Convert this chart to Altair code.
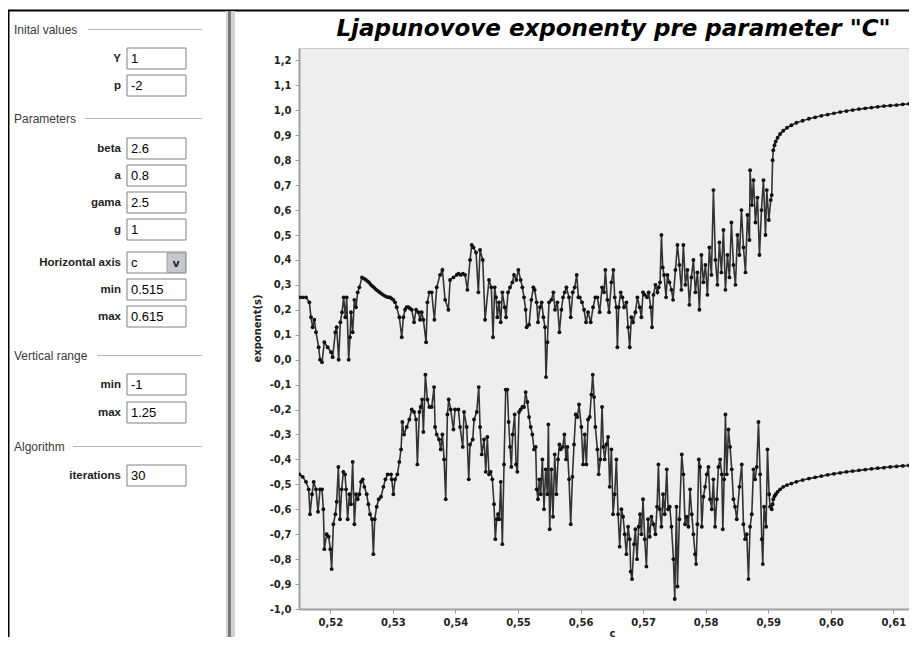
import altair as alt
import pandas as pd

# ---------------- chart data ----------------
TITLE = 'Ljapunovove exponenty pre parameter "C"'
X_TITLE = "c"
Y_TITLE = "exponent(s)"
X_TICKS = [0.52, 0.53, 0.54, 0.55, 0.56, 0.57, 0.58, 0.59, 0.60, 0.61]
Y_TICKS = [-1.0, -0.9, -0.8, -0.7, -0.6, -0.5, -0.4, -0.3, -0.2, -0.1, 0.0,
           0.1, 0.2, 0.3, 0.4, 0.5, 0.6, 0.7, 0.8, 0.9, 1.0, 1.1, 1.2]
X_DOMAIN = [0.515, 0.6125]
Y_DOMAIN = [-1.0, 1.25]

UPPER = [
    (0.51505, 0.25), (0.51559, 0.25), (0.51612, 0.25), (0.51665, 0.23), (0.51692, 0.17),
    (0.51718, 0.13), (0.51745, 0.16), (0.51772, 0.11), (0.51814, 0.05), (0.51836, 0.00),
    (0.51868, -0.01), (0.51905, 0.07), (0.51958, 0.05), (0.52012, 0.03), (0.52038, 0.01),
    (0.52081, 0.11), (0.52102, 0.13), (0.52134, 0.00), (0.52161, 0.15), (0.52188, 0.19),
    (0.52214, 0.25), (0.52241, 0.17), (0.52262, 0.25), (0.52294, 0.00), (0.52315, 0.09),
    (0.52331, 0.19), (0.52358, 0.11), (0.52385, 0.24), (0.52411, 0.21), (0.52438, 0.27),
    (0.52465, 0.29), (0.52507, 0.33), (0.52540, 0.325), (0.52571, 0.32), (0.52600, 0.314),
    (0.52625, 0.308), (0.52650, 0.30), (0.52678, 0.294), (0.52705, 0.288), (0.52731, 0.281),
    (0.52760, 0.276), (0.52785, 0.271), (0.52810, 0.266), (0.52838, 0.261), (0.52870, 0.256),
    (0.52902, 0.252), (0.52935, 0.25),
    (0.52955, 0.25), (0.52980, 0.245), (0.53008, 0.24), (0.53035, 0.23), (0.53062, 0.21),
    (0.53104, 0.17), (0.53142, 0.09), (0.53168, 0.17), (0.53195, 0.20), (0.53220, 0.21),
    (0.53248, 0.21), (0.53275, 0.205), (0.53302, 0.20), (0.53339, 0.15), (0.53371, 0.20),
    (0.53408, 0.19), (0.53435, 0.16), (0.53461, 0.19), (0.53488, 0.16), (0.53531, 0.07),
    (0.53552, 0.23), (0.53584, 0.27), (0.53621, 0.27), (0.53664, 0.16), (0.53701, 0.29),
    (0.53755, 0.34), (0.53792, 0.36), (0.53835, 0.24), (0.53888, 0.20), (0.53915, 0.32),
    (0.53968, 0.33), (0.54021, 0.34), (0.54050, 0.345), (0.54085, 0.34), (0.54120, 0.345),
    (0.54154, 0.34), (0.54192, 0.28), (0.54234, 0.40), (0.54261, 0.46), (0.54288, 0.45),
    (0.54330, 0.43), (0.54367, 0.27), (0.54394, 0.44), (0.54437, 0.40), (0.54474, 0.16),
    (0.54537, 0.32), (0.54574, 0.29), (0.54601, 0.09), (0.54628, 0.29), (0.54649, 0.25),
    (0.54670, 0.17), (0.54697, 0.23), (0.54724, 0.15), (0.54750, 0.27), (0.54788, 0.21),
    (0.54809, 0.17), (0.54841, 0.27), (0.54873, 0.29), (0.54910, 0.31), (0.54937, 0.34),
    (0.54974, 0.32), (0.55006, 0.36), (0.55043, 0.32), (0.55070, 0.29), (0.55097, 0.25),
    (0.55123, 0.20), (0.55139, 0.13), (0.55177, 0.14), (0.55214, 0.24), (0.55246, 0.29),
    (0.55267, 0.28), (0.55299, 0.23), (0.55320, 0.15), (0.55352, 0.21), (0.55379, 0.23),
    (0.55406, 0.17), (0.55432, 0.13), (0.55448, -0.07), (0.55470, 0.07), (0.55496, 0.23),
    (0.55534, 0.24), (0.55566, 0.27), (0.55592, 0.20), (0.55630, 0.23), (0.55662, 0.11),
    (0.55694, 0.20), (0.55720, 0.25), (0.55747, 0.27), (0.55774, 0.29), (0.55816, 0.25),
    (0.55843, 0.17), (0.55875, 0.27), (0.55907, 0.29), (0.55939, 0.34), (0.55966, 0.25),
    (0.55987, 0.25), (0.56024, 0.23), (0.56056, 0.20), (0.56088, 0.15), (0.56120, 0.19),
    (0.56163, 0.15), (0.56200, 0.21), (0.56237, 0.25), (0.56269, 0.25), (0.56306, 0.19),
    (0.56344, 0.29), (0.56376, 0.27), (0.56397, 0.36), (0.56429, 0.24), (0.56456, 0.19),
    (0.56493, 0.31), (0.56525, 0.36), (0.56546, 0.25), (0.56573, 0.21), (0.56589, 0.05),
    (0.56610, 0.21), (0.56642, 0.27), (0.56669, 0.25), (0.56696, 0.21), (0.56733, 0.23),
    (0.56760, 0.13), (0.56786, 0.05), (0.56813, 0.17), (0.56840, 0.15), (0.56877, 0.19),
    (0.56909, 0.25), (0.56946, 0.21), (0.56973, 0.17), (0.56999, 0.27), (0.57026, 0.26),
    (0.57063, 0.25), (0.57090, 0.27), (0.57122, 0.21), (0.57143, 0.13), (0.57165, 0.26),
    (0.57197, 0.30), (0.57229, 0.27), (0.57250, 0.29), (0.57271, 0.31), (0.57293, 0.50),
    (0.57314, 0.37), (0.57335, 0.34), (0.57367, 0.25), (0.57389, 0.34), (0.57421, 0.31),
    (0.57453, 0.28), (0.57479, 0.24), (0.57517, 0.36), (0.57549, 0.46),
    (0.57580, 0.38), (0.57612, 0.28), (0.57644, 0.46), (0.57676, 0.30), (0.57708, 0.36),
    (0.57740, 0.22), (0.57772, 0.33), (0.57804, 0.40), (0.57836, 0.27), (0.57868, 0.35),
    (0.57900, 0.20), (0.57932, 0.42), (0.57964, 0.31), (0.57996, 0.38), (0.58028, 0.26),
    (0.58060, 0.45), (0.58092, 0.34), (0.58124, 0.68), (0.58156, 0.40), (0.58188, 0.30),
    (0.58220, 0.47), (0.58252, 0.35), (0.58284, 0.52), (0.58316, 0.28), (0.58348, 0.42),
    (0.58380, 0.33), (0.58412, 0.55), (0.58444, 0.38), (0.58476, 0.30), (0.58508, 0.50),
    (0.58540, 0.42), (0.58572, 0.60), (0.58604, 0.45), (0.58636, 0.35), (0.58668, 0.58),
    (0.58700, 0.48), (0.58710, 0.76), (0.58740, 0.62), (0.58764, 0.72), (0.58796, 0.55),
    (0.58828, 0.65), (0.58860, 0.42), (0.58892, 0.60), (0.58924, 0.72), (0.58956, 0.50),
    (0.58977, 0.68), (0.59010, 0.56), (0.59040, 0.64), (0.59056, 0.66),
    (0.5907, 0.80), (0.5908, 0.84), (0.5910, 0.86), (0.5912, 0.875), (0.5915, 0.89),
    (0.5919, 0.905), (0.5924, 0.918), (0.5930, 0.93), (0.5937, 0.94), (0.5945, 0.95),
    (0.5955, 0.958), (0.5965, 0.966), (0.5975, 0.972), (0.5985, 0.978), (0.5995, 0.983),
    (0.6005, 0.988), (0.6015, 0.993), (0.6025, 0.997), (0.6035, 1.001), (0.6045, 1.005),
    (0.6055, 1.008), (0.6065, 1.011), (0.6075, 1.014), (0.6085, 1.017), (0.6095, 1.019),
    (0.6105, 1.021), (0.6115, 1.024), (0.6125, 1.026), (0.6135, 1.028),
]

LOWER = [
    (0.51505, -0.46), (0.51559, -0.47), (0.51612, -0.49), (0.51655, -0.52), (0.51676, -0.62),
    (0.51708, -0.54), (0.51735, -0.49), (0.51772, -0.52), (0.51804, -0.61), (0.51836, -0.52),
    (0.51868, -0.52), (0.51889, -0.60), (0.51905, -0.76), (0.51942, -0.70), (0.51974, -0.71),
    (0.52001, -0.76), (0.52022, -0.84), (0.52049, -0.66), (0.52081, -0.62), (0.52102, -0.57),
    (0.52129, -0.43), (0.52156, -0.64), (0.52182, -0.52), (0.52209, -0.45), (0.52236, -0.46),
    (0.52252, -0.52), (0.52278, -0.64), (0.52305, -0.54), (0.52331, -0.58), (0.52358, -0.41),
    (0.52385, -0.66), (0.52411, -0.54), (0.52438, -0.56), (0.52465, -0.54), (0.52491, -0.49),
    (0.52518, -0.48), (0.52545, -0.51), (0.52582, -0.54), (0.52609, -0.58), (0.52635, -0.62),
    (0.52667, -0.64), (0.52689, -0.78), (0.52710, -0.64), (0.52742, -0.59), (0.52774, -0.56),
    (0.52811, -0.55), (0.52849, -0.51), (0.52881, -0.48), (0.52918, -0.46), (0.52971, -0.46),
    (0.52982, -0.48), (0.53008, -0.54), (0.53035, -0.48), (0.53072, -0.46), (0.53104, -0.41),
    (0.53131, -0.36), (0.53152, -0.25), (0.53179, -0.30), (0.53222, -0.27), (0.53264, -0.24),
    (0.53302, -0.20), (0.53339, -0.21), (0.53371, -0.24), (0.53392, -0.42), (0.53424, -0.21),
    (0.53445, -0.19), (0.53467, -0.16), (0.53488, -0.29), (0.53520, -0.06), (0.53552, -0.16),
    (0.53584, -0.19), (0.53621, -0.19), (0.53659, -0.11), (0.53675, -0.27), (0.53701, -0.30),
    (0.53739, -0.32), (0.53765, -0.36), (0.53792, -0.30), (0.53819, -0.40), (0.53845, -0.56),
    (0.53872, -0.22), (0.53893, -0.16), (0.53925, -0.20), (0.53968, -0.28), (0.53994, -0.20),
    (0.54048, -0.20), (0.54074, -0.27), (0.54117, -0.35), (0.54138, -0.21), (0.54181, -0.27),
    (0.54213, -0.48), (0.54234, -0.34), (0.54277, -0.32), (0.54298, -0.24), (0.54341, -0.21),
    (0.54373, -0.11), (0.54394, -0.27), (0.54421, -0.38), (0.54458, -0.32), (0.54485, -0.45),
    (0.54510, -0.31), (0.54537, -0.46), (0.54564, -0.45), (0.54590, -0.48), (0.54617, -0.58),
    (0.54638, -0.72), (0.54660, -0.64), (0.54681, -0.62), (0.54702, -0.64), (0.54724, -0.49),
    (0.54750, -0.74), (0.54777, -0.42), (0.54804, -0.12), (0.54830, -0.12), (0.54851, -0.25),
    (0.54873, -0.35), (0.54894, -0.43), (0.54915, -0.30), (0.54947, -0.22), (0.54969, -0.42),
    (0.54990, -0.45), (0.55017, -0.21), (0.55043, -0.20), (0.55070, -0.19), (0.55097, -0.19),
    (0.55123, -0.13), (0.55150, -0.17), (0.55177, -0.23), (0.55203, -0.27), (0.55230, -0.30),
    (0.55257, -0.36), (0.55283, -0.35), (0.55299, -0.52), (0.55320, -0.56), (0.55342, -0.48),
    (0.55363, -0.54), (0.55390, -0.40), (0.55416, -0.60), (0.55443, -0.44), (0.55470, -0.54),
    (0.55486, -0.26), (0.55507, -0.68), (0.55534, -0.44), (0.55560, -0.63), (0.55587, -0.38),
    (0.55614, -0.54), (0.55640, -0.40), (0.55662, -0.34), (0.55683, -0.36), (0.55715, -0.35),
    (0.55742, -0.30), (0.55768, -0.40), (0.55790, -0.35), (0.55816, -0.48), (0.55843, -0.66),
    (0.55870, -0.47), (0.55896, -0.34), (0.55923, -0.22), (0.55950, -0.23), (0.55976, -0.18),
    (0.56013, -0.27), (0.56040, -0.42), (0.56067, -0.30), (0.56093, -0.42), (0.56120, -0.24),
    (0.56147, -0.23), (0.56173, -0.14), (0.56195, -0.06), (0.56216, -0.15), (0.56237, -0.27),
    (0.56269, -0.36), (0.56290, -0.46), (0.56317, -0.40), (0.56344, -0.19), (0.56365, -0.35),
    (0.56386, -0.40), (0.56413, -0.34), (0.56440, -0.31), (0.56466, -0.51), (0.56493, -0.36),
    (0.56520, -0.62), (0.56546, -0.54), (0.56573, -0.40), (0.56600, -0.62), (0.56626, -0.75),
    (0.56653, -0.60), (0.56680, -0.63), (0.56706, -0.70), (0.56733, -0.78), (0.56760, -0.67),
    (0.56786, -0.72), (0.56802, -0.85), (0.56823, -0.88), (0.56855, -0.74), (0.56877, -0.68),
    (0.56903, -0.80), (0.56930, -0.67), (0.56951, -0.62), (0.56973, -0.70), (0.56999, -0.56),
    (0.57026, -0.72), (0.57053, -0.83), (0.57079, -0.64), (0.57106, -0.71), (0.57133, -0.63),
    (0.57165, -0.66), (0.57197, -0.70), (0.57223, -0.59), (0.57245, -0.42), (0.57266, -0.60),
    (0.57293, -0.67), (0.57319, -0.54), (0.57346, -0.62), (0.57378, -0.44), (0.57399, -0.60),
    (0.57426, -0.59), (0.57453, -0.67), (0.57485, -0.80), (0.57506, -0.96), (0.57533, -0.59),
    (0.57549, -0.91),
    (0.57580, -0.64), (0.57618, -0.38), (0.57644, -0.46), (0.57671, -0.66), (0.57698, -0.63),
    (0.57724, -0.67), (0.57751, -0.52), (0.57778, -0.62), (0.57804, -0.70), (0.57831, -0.78),
    (0.57847, -0.82), (0.57868, -0.66), (0.57890, -0.40), (0.57911, -0.43), (0.57938, -0.67),
    (0.57964, -0.55), (0.57991, -0.51), (0.58018, -0.46), (0.58044, -0.43), (0.58071, -0.56),
    (0.58098, -0.60), (0.58124, -0.48), (0.58151, -0.67), (0.58178, -0.56), (0.58204, -0.43),
    (0.58231, -0.40), (0.58258, -0.46), (0.58274, -0.68), (0.58295, -0.48), (0.58316, -0.22),
    (0.58337, -0.46), (0.58364, -0.28), (0.58390, -0.35), (0.58417, -0.44), (0.58444, -0.56),
    (0.58470, -0.59), (0.58497, -0.64), (0.58540, -0.51), (0.58577, -0.42), (0.58604, -0.66),
    (0.58630, -0.72), (0.58657, -0.70), (0.58684, -0.88), (0.58710, -0.67), (0.58737, -0.62),
    (0.58764, -0.44), (0.58790, -0.48), (0.58817, -0.43), (0.58844, -0.25), (0.58870, -0.46),
    (0.58897, -0.72), (0.58913, -0.82), (0.58934, -0.59), (0.58966, -0.67), (0.58988, -0.36),
    (0.59014, -0.54), (0.59030, -0.59), (0.59056, -0.60),
    (0.5907, -0.58), (0.5908, -0.56), (0.5910, -0.548), (0.5912, -0.54), (0.5915, -0.53),
    (0.5919, -0.52), (0.5924, -0.51), (0.5930, -0.503), (0.5937, -0.497), (0.5945, -0.49),
    (0.5955, -0.483), (0.5965, -0.477), (0.5975, -0.472), (0.5985, -0.467), (0.5995, -0.462),
    (0.6005, -0.458), (0.6015, -0.454), (0.6025, -0.45), (0.6035, -0.447), (0.6045, -0.444),
    (0.6055, -0.441), (0.6065, -0.438), (0.6075, -0.435), (0.6085, -0.433), (0.6095, -0.43),
    (0.6105, -0.428), (0.6115, -0.426), (0.6125, -0.424), (0.6135, -0.422),
]

# ---------------- side panel content ----------------
SECTIONS = ["Inital values", "Parameters", "Vertical range", "Algorithm"]
FIELD_LABELS = ["Y", "p", "beta", "a", "gama", "g", "Horizontal axis",
                "min", "max", "min", "max", "iterations"]
FIELD_VALUES = ["1", "-2", "2.6", "0.8", "2.5", "1", "c",
                "0.515", "0.615", "-1", "1.25", "30"]
DROPDOWN_INDEX = 6

# ---------------- layout (page pixels) ----------------
PLOT_LEFT, PLOT_TOP, PLOT_W, PLOT_H = 299, 48, 610, 561
SVG_W, SVG_H = 901, 629
SECTION_Y = [30, 119, 356, 447]
SECTION_LINE_X0 = [88, 85, 97, 73]
SECTION_LINE_X1 = 202
FIELD_TOP = [48, 75, 138, 165, 192, 219, 252, 279, 306, 374, 402, 465]
BOX_X0, BOX_X1, BOX_H = 127, 186, 21
LABEL_RIGHT, VALUE_LEFT = 121, 131


def px(x):
    return x - PLOT_LEFT


def py(y):
    return y - PLOT_TOP


# ---------------- main plot ----------------
rows = []
for name, pts in (("upper", UPPER), ("lower", LOWER)):
    for c, v in pts:
        rows.append({"c": c, "v": v, "series": name})
data = pd.DataFrame(rows)

x_enc = alt.X(
    "c:Q",
    scale=alt.Scale(domain=X_DOMAIN, nice=False, zero=False),
    axis=alt.Axis(
        values=X_TICKS, title=X_TITLE, grid=False,
        labelExpr="replace(format(datum.value, '.2f'), '.', ',')",
        labelFont="DejaVu Sans", labelFontSize=10, labelFontWeight="bold",
        labelColor="#222", labelPadding=4, tickSize=4, tickColor="#999",
        domainColor="#a0a0a0", domainWidth=2,
        titleFont="DejaVu Sans", titleFontSize=10, titleFontWeight="bold",
        titleColor="#222", titleX=313, titleY=27, titleBaseline="alphabetic",
        titleAlign="center",
    ),
)
y_enc = alt.Y(
    "v:Q",
    scale=alt.Scale(domain=Y_DOMAIN, nice=False, zero=False),
    axis=alt.Axis(
        values=Y_TICKS, title=Y_TITLE, grid=False,
        labelExpr="replace(replace(format(datum.value, '.1f'), '.', ','), '\u2212', '-')",
        labelFont="DejaVu Sans", labelFontSize=10, labelFontWeight="bold",
        labelColor="#222", labelPadding=4, tickSize=4, tickColor="#999",
        domainColor="#a0a0a0", domainWidth=2,
        titleFont="DejaVu Sans", titleFontSize=10, titleFontWeight="bold",
        titleColor="#222", titleAngle=-90, titleX=-47, titleY=280,
        titleBaseline="top", titleAlign="center",
    ),
)

base = alt.Chart(data).encode(x=x_enc, y=y_enc, detail="series:N")
lines = base.mark_line(color="#333333", strokeWidth=1.6, clip=True)
points = base.mark_point(filled=True, size=15, color="#111111", opacity=1, clip=True)
main = alt.layer(lines, points)

# ---------------- panel / frame decorations ----------------
XN = dict(scale=None, axis=None)

frame_rules = pd.DataFrame([
    {"x": px(8), "x2": px(909), "y": py(10.5), "y2": py(10.5), "w": 2, "col": "#000000"},
    {"x": px(8.5), "x2": px(8.5), "y": py(10), "y2": py(637), "w": 2, "col": "#000000"},
])
splitter = pd.DataFrame([
    {"x": px(226), "x2": px(235), "y": py(11), "y2": py(637), "col": "#d2d2d2"},
    {"x": px(228), "x2": px(231), "y": py(11), "y2": py(637), "col": "#7a7a7a"},
])
sec_df = pd.DataFrame({
    "label": SECTIONS,
    "x": [px(14)] * len(SECTIONS),
    "y": [py(v) for v in SECTION_Y],
    "lx0": [px(v) for v in SECTION_LINE_X0],
    "lx1": [px(SECTION_LINE_X1)] * len(SECTIONS),
    "ly": [py(v - 0.5) for v in SECTION_Y],
})
field_df = pd.DataFrame({
    "label": FIELD_LABELS,
    "value": FIELD_VALUES,
    "bx0": [px(BOX_X0)] * len(FIELD_LABELS),
    "bx1": [px(BOX_X1)] * len(FIELD_LABELS),
    "by0": [py(t) for t in FIELD_TOP],
    "by1": [py(t + BOX_H) for t in FIELD_TOP],
    "ty": [py(t + BOX_H / 2 + 0.5) for t in FIELD_TOP],
    "lx": [px(LABEL_RIGHT)] * len(FIELD_LABELS),
    "vx": [px(VALUE_LEFT)] * len(FIELD_LABELS),
})
dd_top = FIELD_TOP[DROPDOWN_INDEX]
dropdown_df = pd.DataFrame([{
    "x": px(167), "x2": px(185.5), "y": py(dd_top + 1), "y2": py(dd_top + BOX_H - 0.5),
    "cx": px(176), "cy": py(dd_top + BOX_H / 2 + 1), "t": "v",
}])
title_df = pd.DataFrame([{"t": TITLE, "x": px(613.5), "y": py(35.5)}])

frame_layer = alt.Chart(frame_rules).mark_rule().encode(
    x=alt.X("x:Q", **XN), x2="x2:Q", y=alt.Y("y:Q", **XN), y2="y2:Q",
    color=alt.Color("col:N", scale=None), strokeWidth=alt.StrokeWidth("w:Q", scale=None),
)
split_layer = alt.Chart(splitter).mark_rect().encode(
    x=alt.X("x:Q", **XN), x2="x2:Q", y=alt.Y("y:Q", **XN), y2="y2:Q",
    color=alt.Color("col:N", scale=None),
)
sec_text = alt.Chart(sec_df).mark_text(
    align="left", baseline="middle", font="Liberation Sans", fontSize=12, color="#3a3a3a"
).encode(x=alt.X("x:Q", **XN), y=alt.Y("y:Q", **XN), text="label:N")
sec_rule = alt.Chart(sec_df).mark_rule(color="#b4b4b4", strokeWidth=1).encode(
    x=alt.X("lx0:Q", **XN), x2="lx1:Q", y=alt.Y("ly:Q", **XN), y2="ly:Q"
)
boxes = alt.Chart(field_df).mark_rect(fill="white", stroke="#808080", strokeWidth=1).encode(
    x=alt.X("bx0:Q", **XN), x2="bx1:Q", y=alt.Y("by0:Q", **XN), y2="by1:Q"
)
labels = alt.Chart(field_df).mark_text(
    align="right", baseline="middle", font="Liberation Sans", fontSize=11.5,
    fontWeight="bold", color="#1e1e1e"
).encode(x=alt.X("lx:Q", **XN), y=alt.Y("ty:Q", **XN), text="label:N")
values = alt.Chart(field_df).mark_text(
    align="left", baseline="middle", font="Liberation Sans", fontSize=13, color="#000000"
).encode(x=alt.X("vx:Q", **XN), y=alt.Y("ty:Q", **XN), text="value:N")
dd_button = alt.Chart(dropdown_df).mark_rect(fill="#c4c8cc", stroke="#9aa0a6").encode(
    x=alt.X("x:Q", **XN), x2="x2:Q", y=alt.Y("y:Q", **XN), y2="y2:Q"
)
dd_arrow = alt.Chart(dropdown_df).mark_text(
    align="center", baseline="middle", font="DejaVu Sans", fontSize=11,
    fontWeight="bold", color="#222"
).encode(x=alt.X("cx:Q", **XN), y=alt.Y("cy:Q", **XN), text="t:N")
title_layer = alt.Chart(title_df).mark_text(
    align="center", baseline="alphabetic", font="DejaVu Sans", fontSize=23,
    fontWeight="bold", fontStyle="italic", color="#000000"
).encode(x=alt.X("x:Q", **XN), y=alt.Y("y:Q", **XN), text="t:N")

panel = alt.layer(frame_layer, split_layer, sec_rule, sec_text, boxes, labels,
                  values, dd_button, dd_arrow, title_layer)

chart = alt.layer(main, panel).resolve_scale(
    x="independent", y="independent"
).properties(
    width=PLOT_W, height=PLOT_H,
    autosize=alt.AutoSizeParams(type="none"),
    padding={"left": PLOT_LEFT - 8, "top": PLOT_TOP - 8,
             "right": SVG_W - (PLOT_LEFT - 8) - PLOT_W,
             "bottom": SVG_H - (PLOT_TOP - 8) - PLOT_H},
    background="white",
).configure_view(fill="#eeeeee", stroke="#cccccc", strokeWidth=1)

chart.save("out.html", embed_options={"renderer": "svg", "actions": False})
